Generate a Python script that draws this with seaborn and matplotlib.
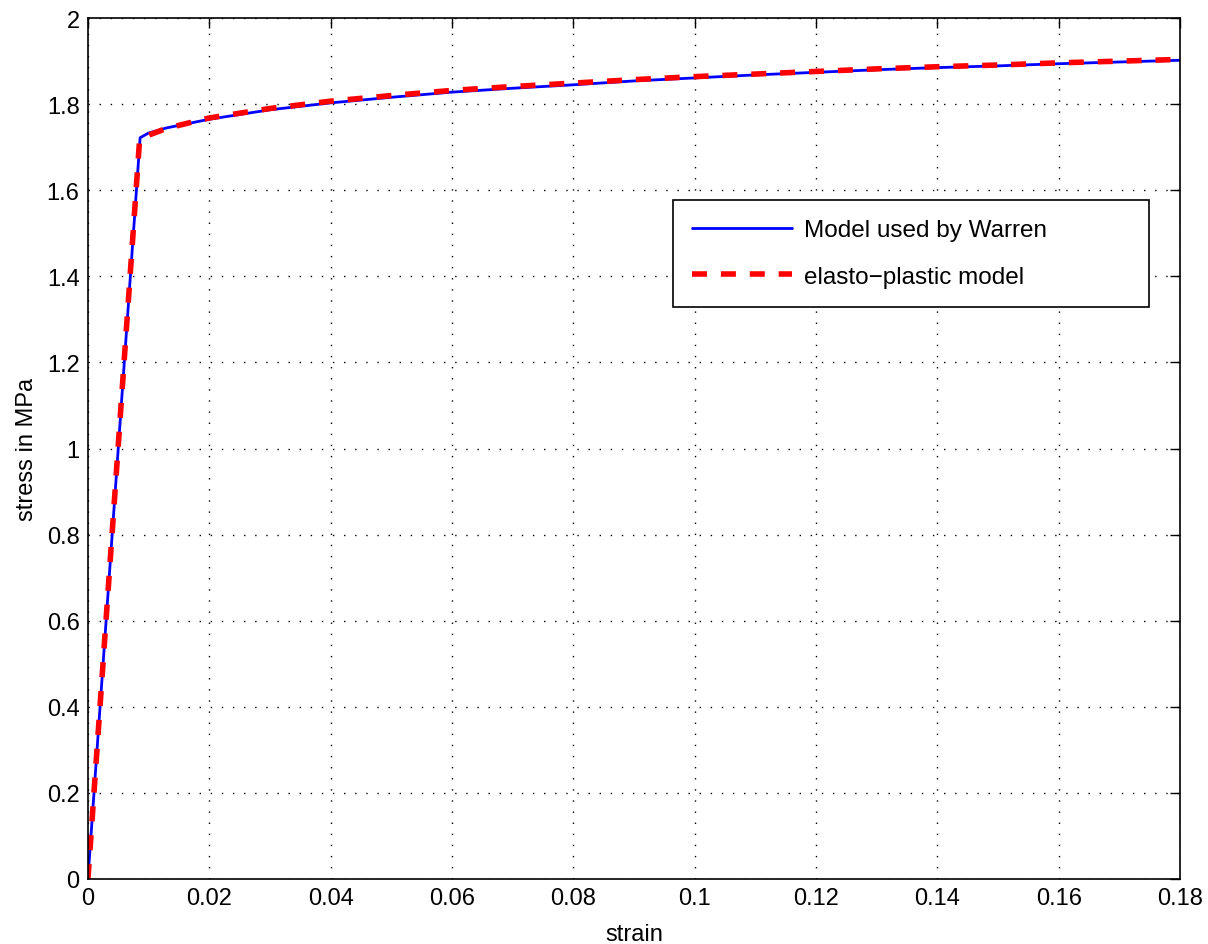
import numpy as np
import pandas as pd
import seaborn as sns
import matplotlib
matplotlib.use("Agg")
import matplotlib.pyplot as plt

# values
warren_strain = [0.0, 0.0086, 0.010, 0.013, 0.02, 0.03, 0.04, 0.05, 0.06, 0.07, 0.08, 0.09,
                 0.10, 0.11, 0.12, 0.13, 0.14, 0.15, 0.16, 0.17, 0.18]
warren_stress = [0.0, 1.722, 1.733, 1.745, 1.765, 1.787, 1.803, 1.816, 1.828, 1.837, 1.845, 1.854,
                 1.861, 1.868, 1.874, 1.880, 1.885, 1.889, 1.894, 1.898, 1.902]

ep_strain = [0.0, 0.0085, 0.010, 0.013, 0.02, 0.03, 0.04, 0.05, 0.06, 0.07, 0.08, 0.09,
             0.10, 0.11, 0.12, 0.13, 0.14, 0.15, 0.16, 0.17, 0.18]
ep_stress = [0.0, 1.714, 1.728, 1.744, 1.768, 1.790, 1.807, 1.820, 1.832, 1.841, 1.849, 1.857,
             1.864, 1.870, 1.876, 1.882, 1.887, 1.891, 1.896, 1.900, 1.904]

xticks = [0, 0.02, 0.04, 0.06, 0.08, 0.1, 0.12, 0.14, 0.16, 0.18]
xticklabels = ["0", "0.02", "0.04", "0.06", "0.08", "0.1", "0.12", "0.14", "0.16", "0.18"]
yticks = [0, 0.2, 0.4, 0.6, 0.8, 1, 1.2, 1.4, 1.6, 1.8, 2]
yticklabels = ["0", "0.2", "0.4", "0.6", "0.8", "1", "1.2", "1.4", "1.6", "1.8", "2"]

df_w = pd.DataFrame({"strain": warren_strain, "stress": warren_stress})
df_e = pd.DataFrame({"strain": ep_strain, "stress": ep_stress})

sns.set_style("white")
plt.rcParams["font.family"] = ["Liberation Sans", "DejaVu Sans"]
plt.rcParams["text.color"] = "black"
plt.rcParams["axes.labelcolor"] = "black"
plt.rcParams["xtick.color"] = "black"
plt.rcParams["ytick.color"] = "black"

fig = plt.figure(figsize=(12.08, 9.45), dpi=100)
ax = fig.add_axes([0.0728, 0.0688, 0.904, 0.911])

sns.lineplot(data=df_w, x="strain", y="stress", sort=False, color="blue", lw=2,
             label="Model used by Warren", ax=ax)
sns.lineplot(data=df_e, x="strain", y="stress", sort=False, color="red", lw=4,
             linestyle=(0, (2.7, 2.5)), label="elasto\u2212plastic model", ax=ax)

ax.set_xlim(0, 0.18)
ax.set_ylim(0, 2)
ax.set_xticks(xticks)
ax.set_xticklabels(xticklabels)
ax.set_yticks(yticks)
ax.set_yticklabels(yticklabels)
ax.tick_params(direction="in", length=7, width=1, top=True, right=True, labelsize=17, pad=6)
ax.grid(True, color="black", linestyle=(0, (1, 7)), linewidth=1)
for s in ax.spines.values():
    s.set_color("black")
    s.set_linewidth(1.2)

ax.set_xlabel("strain", fontsize=17, labelpad=10)
ax.set_ylabel("stress in MPa", fontsize=17, labelpad=6)

leg = ax.legend(loc="upper left", bbox_to_anchor=(0.5357, 0.6667, 0.436, 0.122), mode="expand",
                fontsize=17.5, handlelength=4.1, frameon=True, fancybox=False,
                edgecolor="black", framealpha=1, borderpad=0.8, labelspacing=1.0,
                handletextpad=0.5, borderaxespad=0)
leg.get_frame().set_linewidth(1.2)

fig.savefig("out.png", dpi=100)
